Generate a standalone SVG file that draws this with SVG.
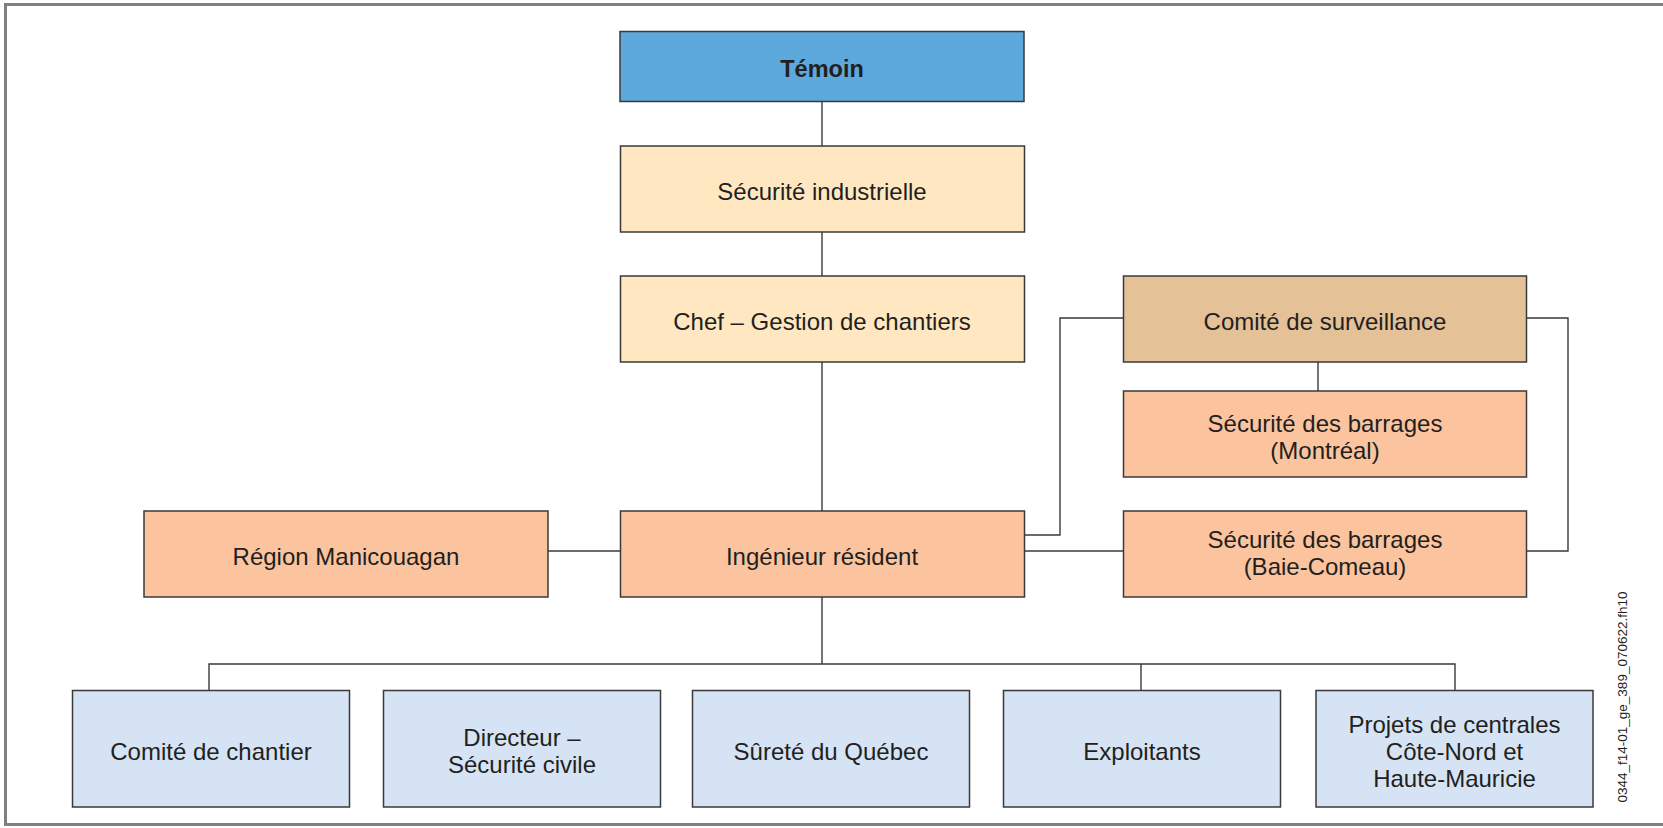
<svg xmlns="http://www.w3.org/2000/svg" width="1663" height="828" viewBox="0 0 1663 828">
<style>
.box{stroke:#3a3a3a;stroke-width:1.5}
.blue{fill:#5DA8DC}
.cream{fill:#FFE8C1}
.tan{fill:#E5C198}
.salmon{fill:#FBC49F}
.light{fill:#D5E3F5}
text{font-family:"Liberation Sans",Arial,sans-serif;font-size:24px;fill:#231F20;text-anchor:middle}
.bold{font-weight:bold;font-size:23.5px}
.conn{fill:none;stroke:#3a3a3a;stroke-width:1.4}
.frame{fill:none;stroke:#808080;stroke-width:3}
.code{font-size:13.5px}
</style>
<rect width="1663" height="828" fill="#ffffff"/>
<path class="frame" d="M1663,4.5 H5.5 V824.5 H1663"/>
<g id="connectors">
<path class="conn" d="M822,101.5 V146"/>
<path class="conn" d="M822,232 V276"/>
<path class="conn" d="M822,362 V511"/>
<path class="conn" d="M548,551 H620.5"/>
<path class="conn" d="M1024.5,535 H1060 V318 H1123.5"/>
<path class="conn" d="M1024.5,551 H1123.5"/>
<path class="conn" d="M1526.5,318 H1568 V551 H1526.5"/>
<path class="conn" d="M1318,362 V391"/>
<path class="conn" d="M822,597 V664"/>
<path class="conn" d="M209,690.5 V664 H1455 V690.5"/>
<path class="conn" d="M1141,664 V690.5"/>
</g>
<g id="temoin">
<rect class="box blue" x="620" y="31.5" width="404" height="70"/>
<text class="bold" x="822" y="77">Témoin</text>
</g>
<g id="securite-industrielle">
<rect class="box cream" x="620.5" y="146" width="404" height="86"/>
<text x="822" y="199.5">Sécurité industrielle</text>
</g>
<g id="chef">
<rect class="box cream" x="620.5" y="276" width="404" height="86"/>
<text x="822" y="329.5">Chef – Gestion de chantiers</text>
</g>
<g id="comite-surveillance">
<rect class="box tan" x="1123.5" y="276" width="403" height="86"/>
<text x="1325" y="329.5">Comité de surveillance</text>
</g>
<g id="securite-montreal">
<rect class="box salmon" x="1123.5" y="391" width="403" height="86"/>
<text x="1325" y="432">Sécurité des barrages</text>
<text x="1325" y="459">(Montréal)</text>
</g>
<g id="region-manicouagan">
<rect class="box salmon" x="144" y="511" width="404" height="86"/>
<text x="346" y="564.5">Région Manicouagan</text>
</g>
<g id="ingenieur">
<rect class="box salmon" x="620.5" y="511" width="404" height="86"/>
<text x="822" y="564.5">Ingénieur résident</text>
</g>
<g id="securite-baie-comeau">
<rect class="box salmon" x="1123.5" y="511" width="403" height="86"/>
<text x="1325" y="548">Sécurité des barrages</text>
<text x="1325" y="575">(Baie-Comeau)</text>
</g>
<g id="comite-chantier">
<rect class="box light" x="72.5" y="690.5" width="277" height="116.5"/>
<text x="211" y="759.5">Comité de chantier</text>
</g>
<g id="directeur">
<rect class="box light" x="383.5" y="690.5" width="277" height="116.5"/>
<text x="522" y="745.5">Directeur –</text>
<text x="522" y="772.5">Sécurité civile</text>
</g>
<g id="surete">
<rect class="box light" x="692.5" y="690.5" width="277" height="116.5"/>
<text x="831" y="759.5">Sûreté du Québec</text>
</g>
<g id="exploitants">
<rect class="box light" x="1003.5" y="690.5" width="277" height="116.5"/>
<text x="1142" y="759.5">Exploitants</text>
</g>
<g id="projets">
<rect class="box light" x="1316" y="690.5" width="277" height="116.5"/>
<text x="1454.5" y="732.5">Projets de centrales</text>
<text x="1454.5" y="759.5">Côte-Nord et</text>
<text x="1454.5" y="786.5">Haute-Mauricie</text>
</g>
<text class="code" transform="translate(1627,697) rotate(-90)">0344_f14-01_ge_389_070622.fh10</text>
</svg>
